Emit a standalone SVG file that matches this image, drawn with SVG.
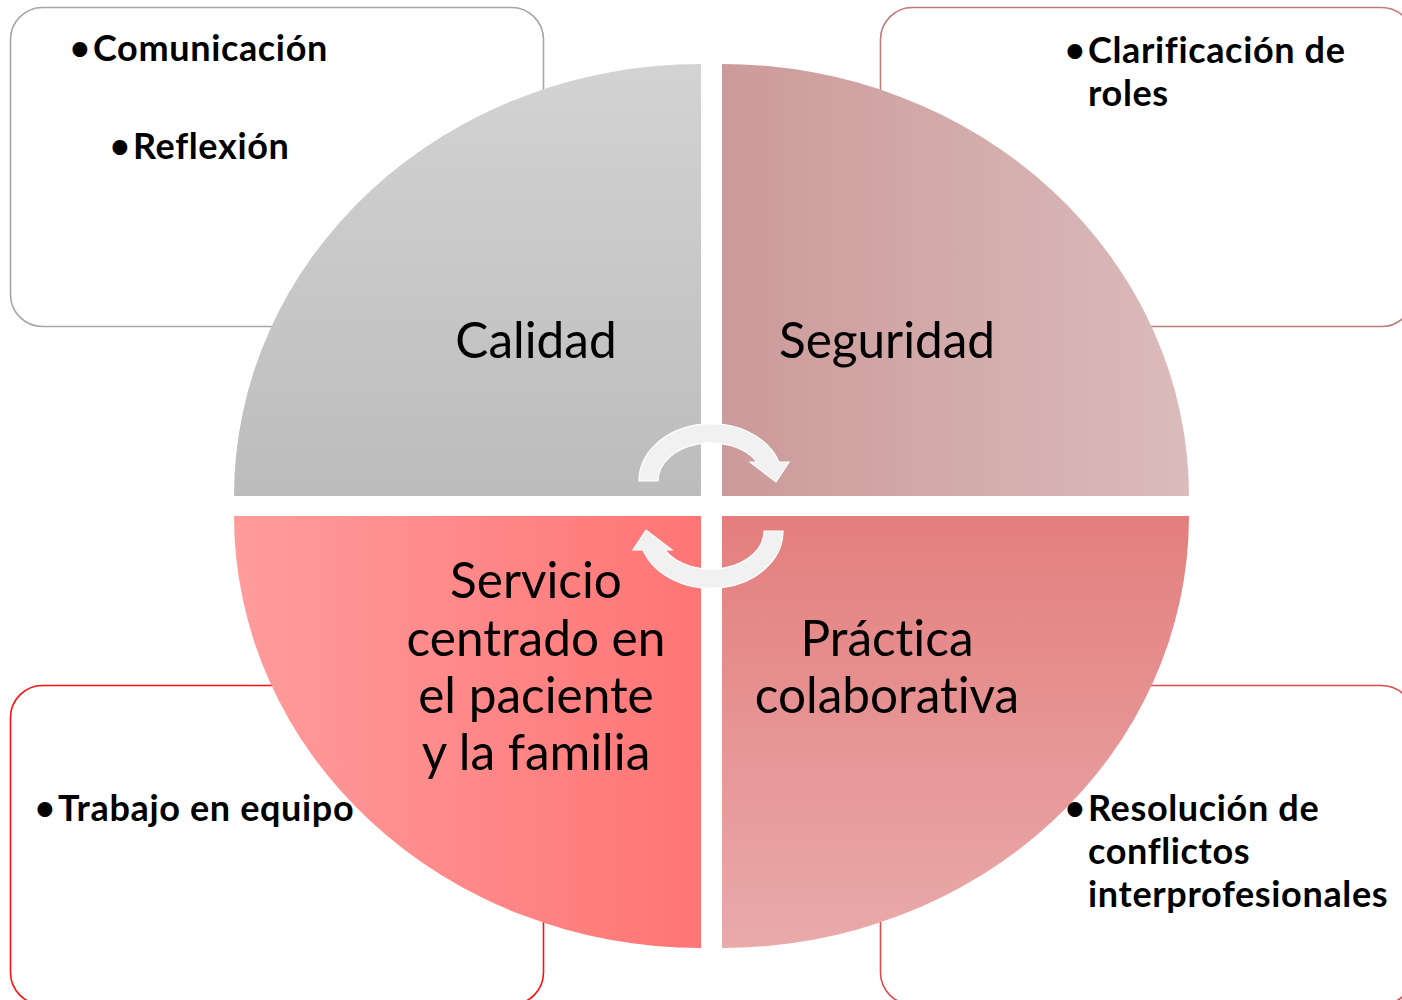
<svg xmlns="http://www.w3.org/2000/svg" xmlns:xlink="http://www.w3.org/1999/xlink" width="1402" height="1000" viewBox="0 0 1402 1000">
<style>
.box{fill:#ffffff;stroke-width:1.6}
.big{font-family:Lato,"Open Sans","Liberation Sans",sans-serif;font-size:49.5px;fill:#000;text-anchor:middle;font-variant-ligatures:none}
.bul{font-family:Lato,"Open Sans","Liberation Sans",sans-serif;font-size:36px;font-weight:bold;fill:#000;letter-spacing:0.65px;font-variant-ligatures:none}
.dot{font-family:Lato,"Open Sans","Liberation Sans",sans-serif;font-size:34px;font-weight:bold;fill:#000}
.arr{fill:#f1f1f1;stroke:#ffffff;stroke-width:1.2}
</style>
<defs>
<linearGradient id="gTL" x1="0" y1="0" x2="0" y2="1"><stop offset="0" stop-color="#d3d3d3"/><stop offset="1" stop-color="#bcbcbc"/></linearGradient>
<linearGradient id="gTR" x1="0" y1="0" x2="1" y2="0"><stop offset="0" stop-color="#cc9a9a"/><stop offset="1" stop-color="#dbbbbb"/></linearGradient>
<linearGradient id="gBL" x1="0" y1="0" x2="1" y2="0"><stop offset="0" stop-color="#ff9c9c"/><stop offset="1" stop-color="#ff7575"/></linearGradient>
<linearGradient id="gBR" x1="0" y1="0" x2="0" y2="1"><stop offset="0" stop-color="#e47e7e"/><stop offset="1" stop-color="#e9aaaa"/></linearGradient>
<path id="arrow" d="M 639,481 A 72,57 0 0 1 779,462 L 789,462 L 776,482 L 750,462 L 757,462 A 53,38 0 0 0 658,481 Z"/>
</defs>
<rect width="1402" height="1000" fill="#ffffff"/>
<g id="box-tl"><rect class="box" x="10.5" y="7.5" width="533" height="319" rx="32" stroke="#a6a6a6"/></g>
<g id="box-tr"><rect class="box" x="880.5" y="7.5" width="533" height="319" rx="32" stroke="#c07a7c"/></g>
<g id="box-bl"><rect class="box" x="10.5" y="685.5" width="533" height="319" rx="32" stroke="#ff1010"/></g>
<g id="box-br"><rect class="box" x="880.5" y="685.5" width="533" height="319" rx="32" stroke="#e04a4a"/></g>
<g id="q-calidad">
<path d="M 701,496 L 234,496 A 467,432 0 0 1 701,64 Z" fill="url(#gTL)"/>
<text class="big" x="536" y="358">Calidad</text>
</g>
<g id="q-seguridad">
<path d="M 722,496 L 722,64 A 467,432 0 0 1 1189,496 Z" fill="url(#gTR)"/>
<text class="big" x="887" y="358">Seguridad</text>
</g>
<g id="q-servicio">
<path d="M 701,516 L 701,948 A 467,432 0 0 1 234,516 Z" fill="url(#gBL)"/>
<text class="big" x="536" y="598">Servicio</text>
<text class="big" x="536" y="656">centrado en</text>
<text class="big" x="536" y="713">el paciente</text>
<text class="big" x="536" y="770">y la familia</text>
</g>
<g id="q-practica">
<path d="M 722,516 L 1189,516 A 467,432 0 0 1 722,948 Z" fill="url(#gBR)"/>
<text class="big" x="887" y="656">Práctica</text>
<text class="big" x="887" y="713">colaborativa</text>
</g>
<g id="connectors">
<use xlink:href="#arrow" class="arr"/>
<use xlink:href="#arrow" class="arr" transform="rotate(180 711 506)"/>
</g>
<g id="txt-tl">
<text class="dot" x="70" y="60">•</text><text class="bul" x="93" y="61">Comunicación</text>
<text class="dot" x="110" y="158">•</text><text class="bul" x="133" y="159">Reflexión</text>
</g>
<g id="txt-tr">
<text class="dot" x="1065" y="62">•</text><text class="bul" x="1088" y="63">Clarificación de</text>
<text class="bul" x="1088" y="106">roles</text>
</g>
<g id="txt-bl">
<text class="dot" x="35" y="820">•</text><text class="bul" x="58" y="821">Trabajo en equipo</text>
</g>
<g id="txt-br">
<text class="dot" x="1065" y="820">•</text><text class="bul" x="1088" y="821">Resolución de</text>
<text class="bul" x="1088" y="864">conflictos</text>
<text class="bul" x="1088" y="907">interprofesionales</text>
</g>
</svg>
